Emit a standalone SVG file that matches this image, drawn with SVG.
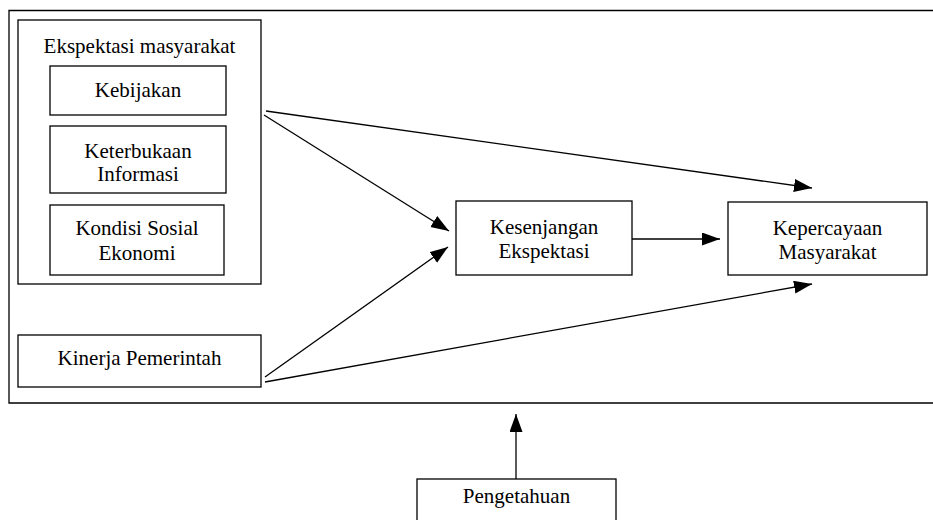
<svg xmlns="http://www.w3.org/2000/svg" width="933" height="520" viewBox="0 0 933 520">
  <defs>
    <style>
      .box { fill: #fff; stroke: #000; stroke-width: 1.3; }
      .frame { fill: none; stroke: #000; stroke-width: 1.3; }
      .lbl { font-family: "Liberation Serif", "Times New Roman", serif; font-size: 21px; fill: #000; text-anchor: middle; }
      .conn { stroke: #000; stroke-width: 1.3; fill: none; marker-end: url(#arr); }
    </style>
    <marker id="arr" markerUnits="userSpaceOnUse" markerWidth="19" markerHeight="14" refX="18" refY="6.5" orient="auto">
      <path d="M0,0 L18,6.5 L0,13 z" fill="#000"/>
    </marker>
  </defs>
  <rect width="933" height="520" fill="#fff"/>
  <g id="frame">
    <polyline class="frame" points="933,10.5 9,10.5 9,403 933,403"/>
  </g>
  <g id="ekspektasi">
    <rect class="box" x="18" y="20" width="243" height="264"/>
    <text class="lbl" x="139.5" y="53">Ekspektasi masyarakat</text>
  </g>
  <g id="kebijakan">
    <rect class="box" x="50" y="66" width="176" height="49"/>
    <text class="lbl" x="138" y="97">Kebijakan</text>
  </g>
  <g id="keterbukaan">
    <rect class="box" x="50" y="126" width="176" height="67"/>
    <text class="lbl" x="138" y="158">Keterbukaan</text>
    <text class="lbl" x="138" y="181">Informasi</text>
  </g>
  <g id="kondisi">
    <rect class="box" x="50" y="205" width="174" height="70"/>
    <text class="lbl" x="137" y="235">Kondisi Sosial</text>
    <text class="lbl" x="137" y="260">Ekonomi</text>
  </g>
  <g id="kinerja">
    <rect class="box" x="18" y="335" width="243" height="52"/>
    <text class="lbl" x="139.5" y="365">Kinerja Pemerintah</text>
  </g>
  <g id="kesenjangan">
    <rect class="box" x="456" y="201" width="176" height="74"/>
    <text class="lbl" x="544" y="234">Kesenjangan</text>
    <text class="lbl" x="544" y="258">Ekspektasi</text>
  </g>
  <g id="kepercayaan">
    <rect class="box" x="728" y="202" width="199" height="73"/>
    <text class="lbl" x="827.5" y="235">Kepercayaan</text>
    <text class="lbl" x="827.5" y="259">Masyarakat</text>
  </g>
  <g id="pengetahuan">
    <rect class="box" x="417" y="479" width="199" height="50"/>
    <text class="lbl" x="516.5" y="503">Pengetahuan</text>
  </g>
  <g id="connectors">
    <line class="conn" x1="266" y1="111" x2="812" y2="188"/>
    <line class="conn" x1="264" y1="115" x2="449" y2="231"/>
    <line class="conn" x1="265" y1="377" x2="448" y2="247"/>
    <line class="conn" x1="265" y1="382" x2="812" y2="284"/>
    <line class="conn" x1="632" y1="239" x2="720" y2="239"/>
    <line class="conn" x1="516" y1="479" x2="516" y2="414"/>
  </g>
</svg>
